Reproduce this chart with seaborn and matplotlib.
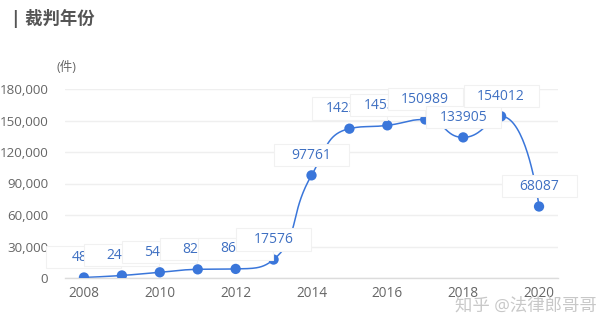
import numpy as np
import pandas as pd
import matplotlib
matplotlib.use("Agg")
import matplotlib.pyplot as plt
import seaborn as sns
from matplotlib.path import Path
from matplotlib.ticker import FuncFormatter

# Judgments per year
years = [2008, 2009, 2010, 2011, 2012, 2013, 2014, 2015, 2016, 2017, 2018, 2019, 2020]
cases = [486, 2418, 5438, 8236, 8653, 17576, 97761, 142215, 145378, 150989, 133905, 154012, 68087]
y_ticks = [0, 30000, 60000, 90000, 120000, 150000, 180000]
x_ticks = [2008, 2010, 2012, 2014, 2016, 2018, 2020]

LINE = "#3a76da"
LABEL = "#3f70c2"
GREY = "#666666"

sns.set_theme(style="white")
plt.rcParams["font.family"] = ["Open Sans", "Noto Sans CJK SC", "DejaVu Sans"]

fig = plt.figure(figsize=(6.14, 3.34), dpi=100)
ax = fig.add_axes([65 / 614, 56 / 334, 493 / 614, 189 / 334])
ax.set_xlim(2007.5, 2020.5)
ax.set_ylim(0, 180000)


def smooth_curve(xs, ys, sx, sy, smooth=0.5, steps=40):
    """Bezier smoothing with clamped control points (no overshoot at extremes)."""
    P = np.column_stack([np.asarray(xs, float) * sx, np.asarray(ys, float) * sy])
    n = len(P)
    out = [P[0]]
    cp0 = P[0].copy()
    t = np.linspace(0, 1, steps)[1:, None]
    for i in range(1, n):
        p, prev = P[i], P[i - 1]
        if i < n - 1:
            nxt = P[i + 1]
            d = nxt - prev
            l0 = np.hypot(*(p - prev))
            l1 = np.hypot(*(nxt - p))
            r = l1 / (l0 + l1)
            ncp = p + d * smooth * r
            ncp = np.clip(ncp, np.minimum(nxt, p), np.maximum(nxt, p))
            cp1 = p - (ncp - p) * l0 / l1
            cp1 = np.clip(cp1, np.minimum(prev, p), np.maximum(prev, p))
            ncp = p + (p - cp1) * l1 / l0
        else:
            cp1 = p.copy()
            ncp = None
        seg = ((1 - t) ** 3 * prev + 3 * (1 - t) ** 2 * t * cp0
               + 3 * (1 - t) * t ** 2 * cp1 + t ** 3 * p)
        out.extend(seg)
        cp0 = ncp
    out = np.array(out)
    return out[:, 0] / sx, out[:, 1] / sy


# pixel scales of the axes, so smoothing behaves like it does on screen
sx = 493 / 13.0
sy = 189 / 180000.0
cx, cy = smooth_curve(years, cases, sx, sy)
curve = pd.DataFrame({"year": cx, "cases": cy})
points = pd.DataFrame({"year": years, "cases": cases})

sns.lineplot(data=curve, x="year", y="cases", sort=False, estimator=None,
             color=LINE, linewidth=1.1, ax=ax, zorder=2)
sns.scatterplot(data=points, x="year", y="cases", color=LINE, s=55,
                edgecolor="none", linewidth=0, ax=ax, zorder=3)


def label_box(x0, y0, width, height, mutation_size):
    # fixed-size white tag centred on the text
    w = 5.4 * mutation_size
    h = 1.6 * mutation_size
    cxp = x0 + width / 2
    cyp = y0 + height / 2
    verts = [(cxp - w / 2, cyp - h / 2), (cxp + w / 2, cyp - h / 2),
             (cxp + w / 2, cyp + h / 2), (cxp - w / 2, cyp + h / 2),
             (cxp - w / 2, cyp - h / 2)]
    return Path(verts, closed=True)


for i, (yr, v) in enumerate(zip(years, cases)):
    ax.annotate(f"{v}", (yr, v), xytext=(0, 14.5), textcoords="offset points",
                ha="center", va="center", fontsize=10, color=LABEL,
                bbox=dict(boxstyle=label_box, fc="white", ec="#f1f1f1", lw=0.8),
                zorder=5 + i, annotation_clip=False)

ax.set_xticks(x_ticks)
ax.set_xticklabels([str(y) for y in x_ticks])
ax.set_yticks(y_ticks)
ax.yaxis.set_major_formatter(FuncFormatter(lambda v, _: f"{v:,.0f}"))
ax.set_xlabel("")
ax.set_ylabel("")
ax.tick_params(axis="y", length=0, pad=12, labelcolor=GREY, labelsize=9.6)
ax.tick_params(axis="x", length=0, pad=6, labelcolor=GREY, labelsize=9.8)
ax.yaxis.grid(True, color="#efefef", linewidth=1)
ax.xaxis.grid(False)
for side in ["top", "right", "left"]:
    ax.spines[side].set_visible(False)
ax.spines["bottom"].set_color("#dcdcdc")
ax.spines["bottom"].set_linewidth(1)

fig.text(66 / 614, 1 - 67 / 334, "(件)", ha="center", va="center",
         fontsize=9, color=GREY)
fig.text(11 / 614, 1 - 19 / 334, "| 裁判年份", ha="left", va="center",
         fontsize=12.5, fontweight="bold", color="#555555")
fig.text(597 / 614, 1 - 306 / 334, "知乎 @法律郎哥哥", ha="right", va="center",
         fontsize=12.5, color="#c8c8c8", zorder=20)

fig.savefig("out.png", dpi=100, facecolor="white")
